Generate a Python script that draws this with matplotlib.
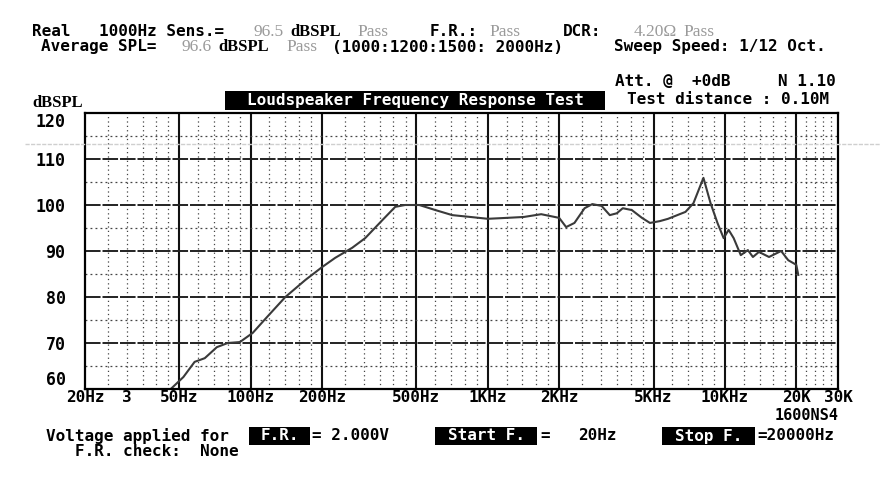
import matplotlib
matplotlib.use("Agg")
import matplotlib.pyplot as plt
from matplotlib.patches import Rectangle
from matplotlib.lines import Line2D
from matplotlib.ticker import NullLocator

# measured response (Hz, dBSPL)
freq = [46, 52, 58, 64, 72, 80, 90, 102, 116, 140, 170, 200, 227, 268, 304,
        359, 407, 448, 514, 601, 708, 844, 1000, 1200, 1420, 1680, 2000, 2140,
        2320, 2560, 2760, 3020, 3270, 3500, 3710, 4050, 4470, 4830, 5320, 5760,
        6300, 6820, 7370, 8120, 8700, 9320, 9880, 10370, 10890, 11670, 12500,
        13130, 13920, 15350, 17270, 18500, 20000, 20400]
spl = [60, 62.6, 65.9, 66.7, 69.1, 70, 70.2, 72.2, 75.4, 80, 83.7, 86.5, 88.5,
       90.7, 92.8, 96.7, 99.6, 100, 100, 98.9, 97.8, 97.4, 97.0, 97.2, 97.4,
       98.0, 97.2, 95.2, 96.1, 99.3, 100.2, 99.8, 97.8, 98.2, 99.3, 98.9, 97.2,
       96.1, 96.5, 97.0, 97.8, 98.5, 100.4, 105.9, 100.4, 96.0, 92.8, 94.6,
       92.8, 89.1, 90.2, 88.7, 89.8, 88.7, 90.0, 88.0, 87.0, 84.8]

xtick_pos = [20, 30, 50, 100, 200, 500, 1000, 2000, 5000, 10000, 20000, 30000]
xtick_lab = ["20Hz", "3", "50Hz", "100Hz", "200Hz", "500Hz", "1KHz", "2KHz",
             "5KHz", "10KHz", "20K", "30K"]
ytick_pos = [60, 70, 80, 90, 100, 110, 120]

major_f = [50, 100, 200, 500, 1000, 2000, 5000, 10000, 20000]
minor_f = [25, 30, 35, 40, 45, 60, 70, 80, 90, 120, 140, 160, 180,
           250, 300, 350, 400, 450, 600, 700, 800, 900,
           1200, 1400, 1600, 1800, 2500, 3000, 3500, 4000, 4500,
           6000, 7000, 8000, 9000, 12000, 14000, 16000, 18000,
           22000, 24000, 26000, 28000]
major_db = [70, 80, 90, 100, 110]
minor_db = [65, 75, 85, 95, 105, 115]

W, H = 880, 480
MONO = "DejaVu Sans Mono"
SERIF = "Liberation Serif"
GRAY = "#9a9a9a"

fig = plt.figure(figsize=(8.8, 4.8), dpi=100)
fig.patch.set_facecolor("white")


def put(x, y, s, size=11.5, color="black", family=MONO, weight="bold", **kw):
    fig.text(x / W, 1 - y / H, s, fontsize=size, color=color,
             family=family, weight=weight, va="center", **kw)


def gray(x, y, s):
    put(x, y, s, size=12.5, color=GRAY, family=SERIF, weight="normal")


def black_box(x0, x1, y0, y1, s):
    fig.add_artist(Rectangle((x0 / W, 1 - y1 / H), (x1 - x0) / W, (y1 - y0) / H,
                             transform=fig.transFigure, facecolor="black",
                             edgecolor="none"))
    fig.text((x0 + x1) / 2 / W, 1 - (y0 + y1) / 2 / H, s, color="white",
             fontsize=11.5, family=MONO, weight="bold", ha="center", va="center")


ax = fig.add_axes([85 / W, 1 - 389 / H, (838 - 85) / W, (389 - 113) / H])
ax.set_xscale("log")
ax.set_xlim(20, 30000)
ax.set_ylim(60, 120)

for f in major_f:
    ax.axvline(f, color="#111111", lw=1.5)
for f in minor_f:
    ax.axvline(f, color="#444444", lw=0.9, ls=(0, (1, 2.5)))
for v in major_db:
    ax.axhline(v, color="#222222", lw=1.4, ls=(0, (8, 1)))
for v in minor_db:
    ax.axhline(v, color="#444444", lw=0.9, ls=(0, (1.5, 2.5)))

ax.plot(freq, spl, color="#3a3a3a", lw=1.5)

for sp in ax.spines.values():
    sp.set_linewidth(1.6)
    sp.set_color("black")

ax.set_xticks(xtick_pos)
ax.set_xticklabels(xtick_lab, family=MONO, weight="bold", fontsize=11.5)
ax.xaxis.set_minor_locator(NullLocator())
ax.set_yticks(ytick_pos)
ax.set_yticklabels([str(v) for v in ytick_pos], family=MONO, weight="bold",
                   fontsize=12)
ax.tick_params(length=0)
ax.tick_params(axis="y", pad=14)
ax.tick_params(axis="x", pad=1)
ylabs = ax.get_yticklabels()
ylabs[0].set_va("bottom")
ylabs[-1].set_va("top")

# faint scanner streak
fig.add_artist(Line2D([25 / W, 1], [1 - 144 / H, 1 - 144 / H],
                      transform=fig.transFigure, color="#cfcfcf", lw=1,
                      ls=(0, (3, 1))))

# header
put(32, 32, "Real")
put(99, 32, "1000Hz Sens.=")
gray(253, 32, "96.5")
put(290, 32, "dBSPL", size=12, family=SERIF)
gray(357, 32, "Pass")
put(430, 32, "F.R.:")
gray(489, 32, "Pass")
put(563, 32, "DCR:")
gray(634, 32, "4.20Ω")
gray(683, 32, "Pass")

put(41, 47, "Average SPL=")
gray(181, 47, "96.6")
put(218, 47, "dBSPL", size=12, family=SERIF)
gray(286, 47, "Pass")
put(332, 47, "(1000:1200:1500: 2000Hz)")
put(614, 47, "Sweep Speed: 1/12 Oct.")

put(615, 81, "Att. @  +0dB")
put(778, 81, "N 1.10")
black_box(225, 605, 91, 110, "Loudspeaker Frequency Response Test")
put(627, 99, "Test distance : 0.10M")
put(32, 103, "dBSPL", size=12, family=SERIF)

# footer
put(775, 415, "1600NS4", size=11)
put(46, 436, "Voltage applied for")
black_box(249, 310, 427, 445, "F.R.")
put(312, 436, "= 2.000V")
black_box(435, 537, 427, 445, "Start F.")
put(540, 436, "=")
put(578, 436, "20Hz")
black_box(662, 755, 427, 445, "Stop F.")
put(757, 436, "=20000Hz")
put(75, 452, "F.R. check:  None")

fig.savefig("out.png", dpi=100)
